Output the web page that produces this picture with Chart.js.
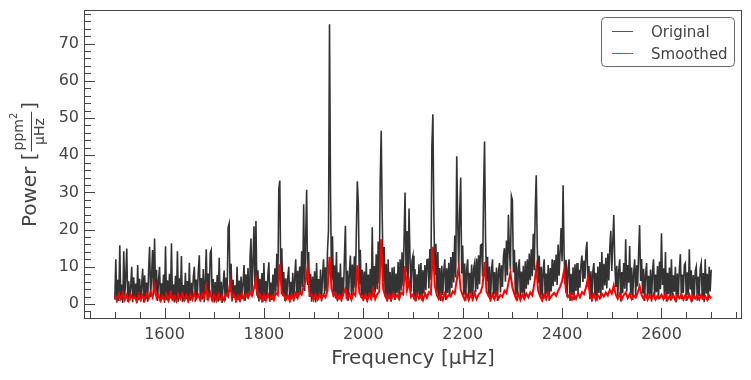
<!DOCTYPE html>
<html lang="en">
<head>
<meta charset="UTF-8">
<title>Periodogram</title>
<script src="https://cdn.jsdelivr.net/npm/chart.js@4.4.1/dist/chart.umd.min.js"></script>
<style>
    body { margin: 0; background: #fff; }
</style>
</head>
<body>
<canvas id="grafico" width="751" height="380"></canvas>

<script>
// frequency grid (µHz)
const freqStart = 1500
const origStep = 2
const smoothStep = 4

// original power spectrum, one value every 2 µHz from 1500 to 2700
const originalPower = [
    1.2, 12, 0.4, 6.5, 0.8, 15.8, 1.1, 5.2, 0.3, 14.2, 2.1, 7.4, 14.9, 0.6, 6.1, 0.9, 4.8, 10, 0.5, 7.2, 1.4, 5.5, 0.2, 10.5, 1.0,
    6.8, 0.7, 4.9, 9.5, 0.4, 7.7, 1.3, 5.8, 0.6, 8.9, 15.4, 1.8, 7.5, 14.5, 2.3, 17.6, 3.1, 9.2, 0.8, 6.3, 10, 0.5, 5.6, 1.2, 7.9,
    0.3, 15.5, 1.0, 6.4, 0.7, 8.1, 1.5, 16.3, 0.9, 5.3, 0.4, 7.6, 1.1, 14.2, 0.6, 6.9, 1.7, 12.9, 0.5, 5.1, 0.8, 8.4, 1.3, 6.2, 0.3,
    11.1, 0.9, 5.7, 1.4, 7.3, 10, 0.6, 6.6, 1.9, 8.8, 13.1, 0.7, 7.0, 1.2, 9.4, 0.5, 6.1, 14.7, 1.0, 8.2, 2.0, 13.7, 14.5, 0.8, 6.7,
    0.4, 5.9, 1.1, 7.8, 0.6, 12.4, 1.5, 6.0, 0.3, 5.4, 9, 0.9, 7.1, 2.4, 20.6, 21.6, 3.2, 10.8, 0.7, 6.5, 1.6, 5.0, 0.4, 10, 1.0,
    6.3, 0.5, 7.4, 1.3, 5.6, 10.5, 0.8, 8.0, 1.8, 9.7, 2.5, 12.3, 17.6, 3.0, 11.4, 20.9, 4.1, 22.3, 2.2, 9.1, 0.7, 6.8, 1.2, 8.3, 0.5,
    11, 0.9, 6.2, 1.5, 7.7, 11.2, 0.6, 5.8, 1.1, 7.9, 2.0, 9.6, 3.3, 13.5, 4.5, 31, 33.2, 6.0, 15, 2.1, 8.6, 0.8, 6.9, 1.4, 7.2,
    10, 0.5, 6.0, 1.2, 8.4, 0.7, 7.1, 12, 1.6, 8.9, 2.4, 10.1, 3.0, 14.2, 4.6, 26.8, 3.5, 17.5, 30.7, 5.1, 14, 1.9, 8.1, 0.6, 7.4,
    1.3, 8.8, 0.4, 11, 1.0, 6.7, 1.8, 9.3, 0.7, 7.5, 12, 2.6, 9.9, 3.4, 14.5, 19.8, 75.2, 30.8, 6.3, 18.2, 2.7, 10.4, 1.5, 14, 0.8,
    8.5, 1.2, 10.9, 0.6, 7.2, 2.0, 12.5, 21, 1.4, 9.0, 0.9, 8.3, 13, 2.2, 10.6, 3.0, 12.8, 4.4, 19.5, 33, 27, 5.2, 14.6, 1.7, 9.2,
    0.8, 8.7, 1.5, 11, 0.5, 7.9, 2.1, 9.5, 1.0, 20.6, 1.8, 10.2, 3.1, 13.4, 4.0, 16.8, 5.5, 32.7, 46.6, 24.1, 6.2, 15.3, 2.0, 10.8, 0.7,
    12, 1.3, 8.6, 0.6, 9.8, 2.2, 10, 1.1, 8.2, 2.9, 11.3, 1.6, 12, 3.6, 13.9, 4.8, 17.2, 30, 8.4, 19.6, 5.0, 25.7, 12.5, 3.3, 11.6,
    13, 1.2, 9.4, 0.7, 8.0, 2.5, 10.7, 1.4, 11, 0.9, 9.1, 2.8, 10.5, 3.7, 11.9, 12, 4.2, 14.8, 6.5, 42.4, 51, 23.5, 7.8, 16.2, 2.6,
    14, 1.5, 9.7, 0.8, 10.3, 2.4, 8.9, 12, 1.1, 9.6, 3.0, 11.1, 2.0, 12.6, 4.3, 14, 5.8, 18.4, 7.1, 39.7, 22.6, 9.0, 24.8, 34, 8.2,
    15.7, 2.3, 10.9, 0.9, 9.2, 12, 1.6, 8.4, 2.7, 10.6, 0.7, 9.5, 11, 3.2, 12.2, 4.0, 13.1, 5.3, 15.8, 16, 7.4, 30, 43.7, 17.3, 6.1,
    12.7, 2.0, 10.1, 0.6, 9.0, 12, 1.3, 8.6, 2.5, 9.8, 0.8, 8.8, 11, 3.1, 10.4, 4.6, 12.9, 15, 6.0, 17.1, 7.7, 24, 14.2, 9.3, 29,
    27.9, 8.5, 14.6, 2.4, 11.2, 0.9, 9.6, 12, 1.5, 8.7, 3.0, 10.3, 1.2, 11.5, 4.1, 12, 5.2, 13.6, 6.4, 14.7, 7.5, 18.9, 9.1, 25.2, 34.6,
    15.4, 5.6, 13.0, 2.2, 10.0, 0.7, 9.3, 12, 1.4, 8.2, 2.6, 10.5, 0.9, 9.7, 3.4, 12, 4.8, 11.8, 6.0, 13.3, 5.1, 16, 7.6, 14.1, 20.4,
    11.5, 31.9, 13.7, 5.4, 11.9, 1.8, 9.4, 12, 0.8, 8.1, 2.3, 9.9, 1.0, 10.7, 3.5, 11, 2.6, 9.2, 4.4, 10.6, 13, 5.9, 11.7, 6.8, 14.3,
    16.7, 4.5, 10.2, 1.3, 8.8, 0.6, 9.0, 11, 2.1, 8.4, 0.9, 10.1, 3.0, 11.3, 1.7, 14, 3.8, 10.8, 5.0, 12.4, 4.2, 13.6, 6.3, 15.2, 19.7,
    8.9, 16.4, 23.9, 11.2, 4.6, 10.3, 1.5, 9.1, 12, 0.7, 8.6, 2.9, 11.0, 4.1, 17.4, 3.3, 10.5, 5.7, 15.6, 2.4, 9.8, 1.1, 8.3, 12, 2.0,
    10.4, 4.7, 13.9, 21.2, 6.2, 12.1, 2.8, 9.5, 0.8, 8.0, 11, 1.6, 7.6, 2.5, 9.3, 0.6, 8.7, 12, 1.9, 7.9, 3.2, 10.2, 1.2, 11.4, 4.0,
    19, 5.1, 9.6, 1.4, 14, 0.7, 8.4, 2.6, 9.8, 0.9, 12, 1.8, 7.7, 3.3, 10.0, 0.5, 8.2, 2.2, 9.4, 13.4, 1.3, 7.9, 3.0, 10.5, 11,
    0.8, 8.5, 2.4, 14.7, 3.9, 9.1, 0.6, 7.8, 1.7, 8.9, 10, 0.9, 7.4, 2.1, 9.6, 11, 1.2, 8.3, 0.5, 12, 2.8, 8.1, 1.0, 10, 3.4,
    9.2
]

// smoothed power, one value every 4 µHz from 1500 to 2700
const smoothedPower = [
    2.2, 1.0, 2.6, 1.3, 2.9, 1.1, 2.4, 0.9, 2.5, 1.4, 2.0, 0.8, 2.7, 1.2, 2.3, 1.0, 2.8, 1.5, 3.2, 1.8, 5.0, 1.6, 2.4, 0.9, 2.1,
    1.2, 2.6, 1.0, 2.9, 1.3, 2.2, 0.8, 2.5, 1.4, 2.7, 1.1, 2.3, 0.9, 2.5, 1.2, 3.0, 1.5, 2.4, 1.1, 2.8, 1.7, 4.5, 1.4, 3.0, 1.0,
    2.4, 0.9, 2.6, 1.2, 2.1, 1.0, 2.7, 2.0, 5.8, 1.6, 2.5, 0.9, 2.2, 1.1, 2.8, 1.3, 2.5, 1.7, 3.2, 2.2, 4.2, 6.7, 2.1, 2.7, 1.0,
    2.5, 1.0, 2.7, 1.3, 2.2, 1.1, 3.0, 2.4, 10.7, 2.8, 2.5, 1.1, 2.3, 0.9, 2.6, 1.4, 2.9, 1.6, 3.1, 2.5, 4.8, 6.1, 9.7, 2.3, 2.6,
    1.1, 2.5, 1.2, 2.7, 1.4, 2.5, 1.8, 3.6, 12.7, 4.3, 2.2, 2.8, 1.2, 2.4, 1.3, 2.9, 4.1, 1.4, 2.6, 1.2, 3.0, 2.3, 10.4, 3.1, 2.0,
    1.2, 2.5, 1.0, 2.7, 1.5, 4.0, 1.3, 2.6, 3.3, 17.4, 4.1, 2.1, 1.1, 2.5, 1.2, 2.8, 1.6, 2.4, 1.3, 3.1, 2.6, 10.2, 3.7, 6.0, 1.9,
    2.5, 1.2, 2.7, 1.4, 2.3, 1.0, 2.9, 1.7, 3.2, 2.7, 15.4, 4.8, 2.4, 1.3, 2.6, 1.1, 2.8, 1.6, 2.5, 2.0, 3.4, 2.8, 6.4, 9.7, 3.8,
    2.3, 1.2, 2.7, 1.1, 2.5, 1.4, 3.0, 1.3, 2.6, 3.1, 5.0, 11.3, 3.3, 2.2, 1.2, 2.6, 1.3, 2.9, 1.5, 2.4, 1.9, 3.6, 2.9, 5.6, 8.4,
    4.4, 2.6, 1.3, 2.7, 1.1, 2.5, 1.4, 2.8, 1.8, 3.1, 2.3, 5.3, 9.6, 3.5, 2.0, 1.0, 2.6, 1.3, 2.9, 1.6, 2.4, 3.0, 2.2, 3.5, 4.6,
    6.2, 9.0, 3.2, 1.9, 2.7, 1.2, 2.5, 1.4, 2.9, 1.8, 3.2, 2.6, 4.4, 7.0, 2.4, 1.3, 2.6, 1.1, 2.4, 1.5, 2.8, 2.0, 3.1, 2.3, 3.8,
    2.8, 5.0, 2.5, 1.4, 2.7, 1.2, 2.4, 3.1, 1.6, 2.6, 1.3, 2.3, 1.7, 3.0, 4.8, 2.4, 1.4, 2.5, 1.1, 2.3, 1.4, 2.6, 1.2, 2.2, 1.6,
    2.5, 1.3, 2.7, 1.1, 2.1, 1.4, 2.4, 1.0, 2.3, 1.6, 2.6, 1.2, 2.4, 1.4, 2.5, 0.9, 2.2, 1.5, 2.4, 1.2, 2.5, 1.4, 2.1, 1.1, 2.3,
    1.5
]

// axes
const xMin = 1440, xMax = 2760
const yMin = -3.76, yMax = 78.76
const xMajorTicks = [1600, 1800, 2000, 2200, 2400, 2600]
const yMajorTicks = [0, 10, 20, 30, 40, 50, 60, 70]
const legendLabels = ['Original', 'Smoothed']

const fonte = '"DejaVu Sans"'
const cinza = '#444'
const corOriginal = '#333'
const corSuave = '#ff0000'

const pontosOriginal = originalPower.map((p, i) => ({ x: freqStart + origStep * i, y: p }))
const pontosSuave = smoothedPower.map((p, i) => ({ x: freqStart + smoothStep * i, y: p }))

// inward ticks + spines, like the matplotlib style
const ticksPlugin = {
    id: 'ticksDentro',
    afterDraw(chart) {
        const ctx = chart.ctx
        const a = chart.chartArea
        const xs = chart.scales.x
        const ys = chart.scales.y
        ctx.save()
        ctx.strokeStyle = cinza
        ctx.lineWidth = 1
        ctx.beginPath()
        for (let v = 1450; v <= xMax; v += 50) {
            const px = Math.round(xs.getPixelForValue(v)) + 0.5
            const len = xMajorTicks.includes(v) ? 10 : 6
            ctx.moveTo(px, a.bottom)
            ctx.lineTo(px, a.bottom - len)
        }
        for (let v = -2; v <= yMax; v += 2) {
            const py = Math.round(ys.getPixelForValue(v)) + 0.5
            const len = yMajorTicks.includes(v) ? 10 : 6
            ctx.moveTo(a.left, py)
            ctx.lineTo(a.left + len, py)
        }
        ctx.stroke()
        ctx.strokeRect(a.left - 0.5, a.top - 0.5, a.right - a.left + 1, a.bottom - a.top + 1)
        ctx.restore()
    }
}

// legend box in the top right corner
const legendaPlugin = {
    id: 'legenda',
    afterDraw(chart) {
        const ctx = chart.ctx
        const a = chart.chartArea
        const x = a.right - 140, y = a.top + 6, w = 133, h = 49, r = 4
        ctx.save()
        ctx.fillStyle = '#fff'
        ctx.strokeStyle = '#666'
        ctx.lineWidth = 1
        ctx.beginPath()
        ctx.roundRect(x + 0.5, y + 0.5, w, h, r)
        ctx.fill()
        ctx.stroke()
        const cores = ['#555', '#f33']
        ctx.font = '15px ' + fonte
        ctx.textBaseline = 'alphabetic'
        legendLabels.forEach((txt, i) => {
            const ly = y + 14 + i * 22 + 0.5
            ctx.strokeStyle = cores[i]
            ctx.lineWidth = 1
            ctx.beginPath()
            ctx.moveTo(x + 11, ly)
            ctx.lineTo(x + 32, ly)
            ctx.stroke()
            ctx.fillStyle = cinza
            ctx.fillText(txt, x + 50, ly + 5)
        })
        ctx.restore()
    }
}

// axis titles (the y one has a stacked fraction)
const titulosPlugin = {
    id: 'titulos',
    afterDraw(chart) {
        const ctx = chart.ctx
        const a = chart.chartArea
        ctx.save()
        ctx.fillStyle = cinza
        ctx.textBaseline = 'alphabetic'

        ctx.font = '20px ' + fonte
        ctx.textAlign = 'center'
        ctx.fillText('Frequency [µHz]', (a.left + a.right) / 2, 364)

        ctx.textAlign = 'left'
        const big = '20px ' + fonte, small = '14px ' + fonte, sup = '10px ' + fonte
        ctx.font = big
        const wMain = ctx.measureText('Power [').width
        const wClose = ctx.measureText(']').width
        ctx.font = small
        const wPpm = ctx.measureText('ppm').width
        const wMu = ctx.measureText('µHz').width
        ctx.font = sup
        const w2 = ctx.measureText('2').width
        const wNum = wPpm + w2
        const wFrac = Math.max(wNum, wMu) + 2
        const total = wMain + 1 + wFrac + 2 + wClose
        const cy = (a.top + a.bottom) / 2

        ctx.translate(0, cy + total / 2)
        ctx.rotate(-Math.PI / 2)
        ctx.font = big
        ctx.fillText('Power [', 0, 36)
        const x0 = wMain + 1
        ctx.font = small
        ctx.fillText('ppm', x0 + (wFrac - wNum) / 2, 23)
        ctx.font = sup
        ctx.fillText('2', x0 + (wFrac - wNum) / 2 + wPpm, 17)
        ctx.font = small
        ctx.fillText('µHz', x0 + (wFrac - wMu) / 2, 44)
        ctx.fillRect(x0, 31, wFrac, 1)
        ctx.font = big
        ctx.fillText(']', x0 + wFrac + 2, 36)
        ctx.restore()
    }
}

new Chart(document.getElementById('grafico'), {
    type: 'line',
    data: {
        datasets: [
            {
                label: legendLabels[0],
                data: pontosOriginal,
                borderColor: corOriginal,
                borderWidth: 1.6,
                pointRadius: 0,
                tension: 0,
                order: 2
            },
            {
                label: legendLabels[1],
                data: pontosSuave,
                borderColor: corSuave,
                borderWidth: 2,
                pointRadius: 0,
                tension: 0,
                order: 1
            }
        ]
    },
    options: {
        responsive: false,
        animation: false,
        events: [],
        layout: { padding: { top: 11, right: 10, left: 0, bottom: 0 } },
        plugins: { legend: { display: false }, tooltip: { enabled: false } },
        scales: {
            x: {
                type: 'linear',
                min: xMin,
                max: xMax,
                grid: { display: false, drawTicks: false },
                border: { display: false },
                afterBuildTicks: s => { s.ticks = xMajorTicks.map(v => ({ value: v })) },
                afterFit: s => { s.height = 62; s.paddingLeft = 0; s.paddingRight = 0 },
                ticks: {
                    padding: 7,
                    maxRotation: 0,
                    color: cinza,
                    font: { family: 'DejaVu Sans', size: 16 },
                    callback: v => String(v)
                }
            },
            y: {
                type: 'linear',
                min: yMin,
                max: yMax,
                grid: { display: false, drawTicks: false },
                border: { display: false },
                afterBuildTicks: s => { s.ticks = yMajorTicks.map(v => ({ value: v })) },
                afterFit: s => { s.width = 85; s.paddingTop = 0; s.paddingBottom = 0 },
                ticks: {
                    padding: 6,
                    color: cinza,
                    font: { family: 'DejaVu Sans', size: 16 },
                    callback: v => String(v)
                }
            }
        }
    },
    plugins: [ticksPlugin, legendaPlugin, titulosPlugin]
})
</script>
</body>
</html>
